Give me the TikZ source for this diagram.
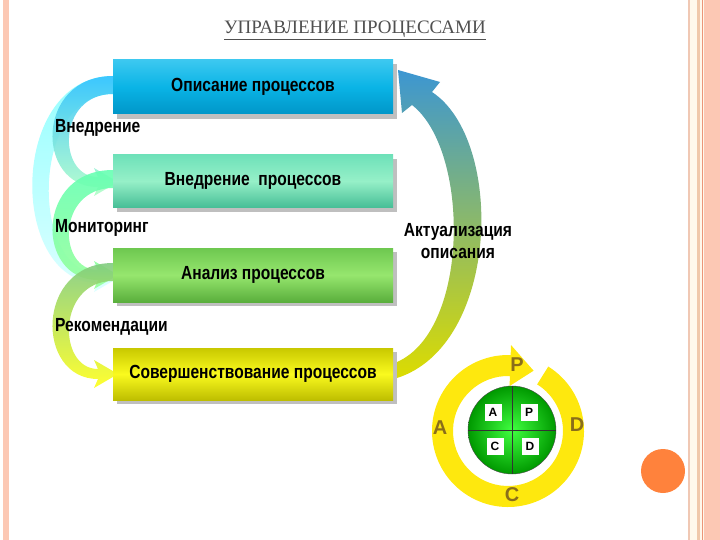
\documentclass[tikz,border=0pt]{standalone}
\usepackage{fontspec}
\setmainfont{Liberation Sans}
\newfontfamily\cond[FakeStretch=0.82]{Liberation Sans}
\newfontfamily\titlefont{Liberation Serif}
\begin{document}
\begin{tikzpicture}[x=1pt,y=-1pt,
  box/.style={minimum width=280pt,minimum height=54pt,inner sep=0pt,font=\cond\bfseries\fontsize{19}{19}\selectfont},
  lbl/.style={font=\cond\bfseries\fontsize{19}{20}\selectfont,inner sep=0pt,anchor=west},
  pd/.style={font=\bfseries\fontsize{20}{20}\selectfont,text=pdc},
  sq/.style={fill=white,minimum size=17pt,inner sep=0pt,font=\bfseries\fontsize{12}{12}\selectfont}]
\definecolor{pdc}{HTML}{8A6E1A}
\useasboundingbox (0,0) rectangle (720,540);
% page border strips
\fill[fill={rgb,255:red,252;green,200;blue,180}] (3,0) rectangle (9,540);
\fill[fill={rgb,255:red,255;green,248;blue,235}] (688,0) rectangle (720,540);
\fill[fill={rgb,255:red,240;green,200;blue,180}] (688,0) rectangle (690,540);
\fill[fill={rgb,255:red,240;green,200;blue,170}] (697,0) rectangle (700,540);
\fill[fill={rgb,255:red,235;green,150;blue,120}] (702,0) rectangle (703,540);
\fill[fill={rgb,255:red,252;green,200;blue,180}] (704,0) rectangle (720,540);
% title
\node[font=\titlefont\fontsize{19}{19}\selectfont,text={rgb,255:red,80;green,80;blue,80}] (title) at (355,30) {\underline{УПРАВЛЕНИЕ ПРОЦЕССАМИ}};
% left crescents
\newcommand{\crarrow}[5]{%
 \shade[top color=#4,bottom color=#5,opacity=0.9]
  (113,#1-12) .. controls (#3,#1-12) and (#3,#2+5) .. (98,#2+5)
  -- (94,#2+14) -- (118,#2) -- (94,#2-14) -- (98,#2-5)
  .. controls (#3+22,#2-5) and (#3+22,#1+6) .. (113,#1+6) -- cycle;}
\crarrow{88}{278}{8}{cyan!45}{cyan!15}
\crarrow{88}{182}{35}{cyan!70!blue!80}{cyan!25!green!30}
\crarrow{182}{275}{35}{green!50!cyan!60}{green!40}
\crarrow{275}{374}{35}{green!60!black!50}{yellow!90}
% right big arrow
\shade[top color={rgb,255:red,60;green,150;blue,210},bottom color={rgb,255:red,220;green,220;blue,0}]
  (397,378) .. controls (500,345) and (505,140) .. (432,92)
  -- (440,82) -- (398,70) -- (402,113) -- (412,105)
  .. controls (470,150) and (470,330) .. (397,362) -- cycle;
% boxes
\fill[gray!50] (117,64) rectangle (397,119);
\node[box,top color={rgb,255:red,60;green,200;blue,240},bottom color={rgb,255:red,0;green,150;blue,200},middle color={rgb,255:red,10;green,180;blue,230}] (b1) at (253,87) {Описание процессов};
\fill[gray!50] (117,159) rectangle (397,212);
\node[box,minimum height=53pt,top color={rgb,255:red,110;green,225;blue,185},bottom color={rgb,255:red,70;green,190;blue,150},middle color={rgb,255:red,150;green,240;blue,200}] (b2) at (253,181) {Внедрение\ \ процессов};
\fill[gray!50] (117,252) rectangle (397,306);
\node[box,top color={rgb,255:red,110;green,200;blue,80},bottom color={rgb,255:red,90;green,175;blue,60},middle color={rgb,255:red,150;green,230;blue,110}] (b3) at (253,275) {Анализ процессов};
\fill[gray!50] (117,352) rectangle (397,404);
\node[box,minimum height=52pt,top color={rgb,255:red,200;green,200;blue,0},bottom color={rgb,255:red,190;green,190;blue,0},middle color={rgb,255:red,250;green,250;blue,30}] (b4) at (253,374) {Совершенствование процессов};
% labels
\node[lbl] (l1) at (55,128) {Внедрение};
\node[lbl] (l2) at (55,228) {Мониторинг};
\node[lbl] (l3) at (55,327) {Рекомендации};
\node[font=\cond\bfseries\fontsize{19}{22}\selectfont,align=center] (l4) at (458,241) {Актуализация\\описания};
% PDCA ring
\begin{scope}[shift={(508,431)},y=1pt]
\fill[yellow!90!orange!95]
  (58:76) arc[start angle=58,end angle=-272,radius=76]
  -- (88:86) -- (67:65.5) -- (88:45) -- (88:55)
  arc[start angle=-272,end angle=58,radius=55] -- cycle;
\end{scope}
\node[circle,minimum size=88pt,draw=black!70,inner color=green!75!white,outer color=green!60!black] (g) at (512,430) {};
\draw[black!80] (g.north) -- (g.south) (g.west) -- (g.east);
\node[sq] (qa) at (493,412) {A};
\node[sq] (qp) at (529,412) {P};
\node[sq] (qc) at (495,446) {C};
\node[sq] (qd) at (530,446) {D};
\node[pd] (P) at (517,365) {P};
\node[pd] (D) at (577,425) {D};
\node[pd] (C) at (512,495) {C};
\node[pd] (A) at (440,428) {A};
\node[circle,fill={rgb,255:red,255;green,130;blue,60},minimum size=44pt,inner sep=0pt] (oc) at (663,471) {};
\end{tikzpicture}
\end{document}
